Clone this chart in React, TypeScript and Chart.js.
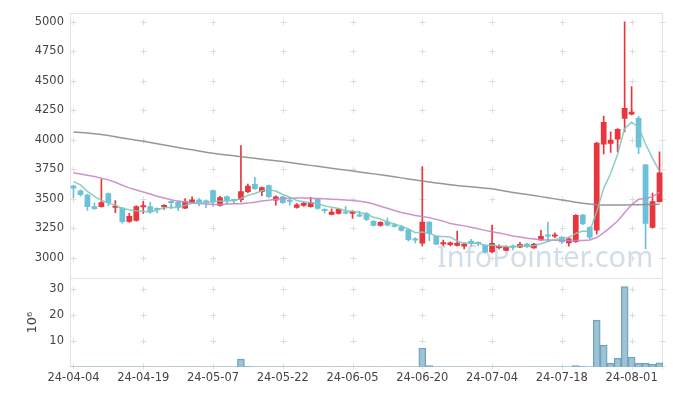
import { useEffect, useRef } from "react";
import { Chart, registerables } from "chart.js";

Chart.register(...registerables);

const dates = [
  "24-04-04","24-04-05","24-04-08","24-04-09","24-04-11","24-04-12","24-04-15","24-04-16","24-04-17","24-04-18",
  "24-04-19","24-04-22","24-04-23","24-04-24","24-04-25","24-04-26","24-04-29","24-04-30","24-05-02","24-05-03",
  "24-05-07","24-05-08","24-05-09","24-05-10","24-05-13","24-05-14","24-05-16","24-05-17","24-05-20","24-05-21",
  "24-05-22","24-05-23","24-05-24","24-05-27","24-05-28","24-05-29","24-05-30","24-05-31","24-06-03","24-06-04",
  "24-06-05","24-06-07","24-06-10","24-06-11","24-06-12","24-06-13","24-06-14","24-06-17","24-06-18","24-06-19",
  "24-06-20","24-06-21","24-06-24","24-06-25","24-06-26","24-06-27","24-06-28","24-07-01","24-07-02","24-07-03",
  "24-07-04","24-07-05","24-07-08","24-07-09","24-07-10","24-07-11","24-07-12","24-07-15","24-07-16","24-07-17",
  "24-07-18","24-07-19","24-07-22","24-07-23","24-07-24","24-07-25","24-07-26","24-07-29","24-07-30","24-07-31",
  "24-08-01","24-08-02","24-08-05","24-08-06","24-08-07",
];

const opens = [
  3611,3571,3535,3437,3431,3546,3423,3423,3305,3313,
  3429,3437,3420,3429,3479,3475,3418,3462,3493,3478,
  3572,3440,3521,3488,3490,3557,3625,3557,3615,3485,
  3519,3485,3423,3440,3431,3498,3413,3364,3373,3390,
  3373,3363,3378,3311,3271,3308,3282,3264,3240,3160,
  3120,3305,3187,3115,3107,3101,3095,3143,3122,3107,
  3046,3082,3060,3092,3087,3119,3080,3149,3195,3179,
  3177,3122,3133,3364,3260,3230,3961,3967,4002,4179,
  4215,4185,3790,3255,3473,
];

const highs = [
  3615,3575,3540,3465,3667,3550,3485,3428,3376,3440,
  3479,3470,3422,3450,3485,3480,3502,3517,3502,3490,
  3575,3520,3523,3495,3950,3625,3681,3600,3617,3525,
  3520,3505,3460,3475,3513,3500,3415,3414,3416,3433,
  3400,3395,3385,3315,3306,3336,3290,3275,3242,3170,
  3772,3306,3188,3150,3135,3226,3125,3155,3135,3108,
  3276,3110,3100,3110,3130,3125,3121,3233,3303,3210,
  3180,3175,3365,3368,3262,3978,4202,4067,4095,5000,
  4451,4200,3792,3549,3898,
];

const lows = [
  3507,3521,3401,3410,3428,3440,3381,3294,3300,3310,
  3376,3375,3380,3410,3415,3400,3415,3460,3440,3425,
  3437,3438,3457,3457,3474,3550,3580,3527,3510,3445,
  3460,3445,3420,3435,3428,3412,3380,3362,3370,3372,
  3334,3348,3315,3268,3268,3270,3258,3225,3140,3125,
  3099,3145,3110,3102,3100,3098,3075,3100,3100,3040,
  3040,3075,3058,3066,3085,3088,3078,3147,3143,3170,
  3120,3098,3130,3280,3160,3200,3880,3892,3899,4067,
  4210,3883,3075,3250,3470,
];

const closes = [
  3586,3532,3431,3414,3471,3465,3437,3303,3353,3437,
  3443,3387,3405,3447,3465,3425,3479,3493,3465,3468,
  3471,3512,3482,3480,3563,3610,3583,3597,3515,3520,
  3465,3475,3451,3464,3471,3415,3397,3389,3413,3375,
  3395,3350,3322,3271,3303,3273,3263,3229,3151,3145,
  3304,3204,3113,3130,3129,3127,3119,3118,3116,3046,
  3124,3094,3094,3086,3117,3090,3119,3185,3180,3197,
  3131,3162,3362,3283,3171,3975,4151,4001,4091,4269,
  4238,3935,3289,3479,3723,
];

const ma5 = [
  3645,3618,3563,3521,3487,3463,3444,3418,3406,3399,
  3395,3385,3405,3424,3429,3426,3444,3462,3465,3466,
  3475,3482,3480,3483,3502,3529,3544,3567,3574,3565,
  3536,3514,3485,3475,3465,3455,3440,3427,3417,3398,
  3394,3384,3371,3343,3328,3304,3286,3268,3244,3212,
  3218,3207,3183,3179,3176,3141,3124,3125,3122,3105,
  3105,3100,3095,3089,3103,3096,3101,3119,3138,3154,
  3162,3171,3206,3227,3222,3391,3588,3716,3878,4097,
  4150,4107,3964,3842,3733,
];

const ma20 = [
  3720,3710,3700,3688,3675,3660,3640,3615,3592,3575,
  3558,3540,3522,3507,3492,3480,3472,3465,3460,3455,
  3451,3452,3455,3457,3458,3463,3471,3480,3488,3496,
  3502,3505,3507,3506,3504,3502,3499,3496,3493,3489,
  3485,3478,3471,3455,3437,3420,3401,3384,3370,3358,
  3350,3340,3325,3310,3290,3280,3270,3258,3245,3232,
  3220,3210,3198,3185,3175,3165,3158,3152,3150,3148,
  3146,3145,3145,3146,3150,3171,3213,3260,3311,3381,
  3451,3495,3502,3518,3555,
];

const ma120 = [
  4067,4062,4057,4051,4045,4036,4026,4016,4006,3997,
  3988,3977,3966,3955,3945,3935,3925,3915,3905,3895,
  3885,3878,3871,3864,3857,3850,3843,3836,3829,3822,
  3815,3807,3799,3791,3783,3775,3767,3759,3751,3743,
  3735,3727,3719,3711,3703,3695,3686,3677,3668,3659,
  3650,3642,3634,3627,3619,3612,3607,3601,3596,3590,
  3585,3575,3564,3554,3545,3536,3528,3518,3508,3499,
  3490,3481,3471,3462,3455,3450,3448,3447,3447,3448,
  3449,3450,3451,3452,3453,
];

// volume in millions of shares
const volumes = [
  0.05,0.04,0.05,0.04,0.06,0.04,0.04,0.05,0.04,0.04,
  0.04,0.04,0.03,0.03,0.04,0.04,0.04,0.05,0.04,0.03,
  0.05,0.05,0.04,0.03,3.0,0.15,0.1,0.06,0.06,0.05,
  0.04,0.04,0.04,0.03,0.04,0.04,0.04,0.03,0.04,0.03,
  0.03,0.03,0.04,0.04,0.03,0.04,0.03,0.04,0.05,0.04,
  7.3,0.5,0.1,0.05,0.04,0.06,0.04,0.04,0.03,0.05,
  0.08,0.04,0.03,0.03,0.04,0.03,0.04,0.08,0.1,0.05,
  0.05,0.06,0.5,0.15,0.1,18.0,8.4,1.5,3.4,30.9,
  3.8,1.5,1.5,1.1,1.6,
];

const priceTicks = [3000, 3250, 3500, 3750, 4000, 4250, 4500, 4750, 5000];
const volumeTicks = [10, 20, 30];
const labelEvery = 10;
const watermark = "InfoPointer.com";
const volumeUnit = "10\u2076";

const UP = "#e8363c";
const DOWN = "#6cc1d8";
const FONT = "'DejaVu Sans', sans-serif";
const TICK_COLOR = "#444";

const framePlugin = {
  id: "frame",
  beforeDatasetsDraw(chart: any) {
    const { ctx, chartArea: ca, scales } = chart;
    const xs = scales.x;
    const y = scales.y;
    const y2 = scales.y2;
    ctx.save();
    // watermark
    ctx.font = "29px 'Noto Sans', sans-serif";
    ctx.fillStyle = "rgba(160,190,210,0.5)";
    ctx.textBaseline = "alphabetic";
    ctx.textAlign = "left";
    ctx.fillText(watermark, 437, 267);

    // grid crosses
    ctx.strokeStyle = "#dcdcdc";
    ctx.lineWidth = 1;
    const xPos: number[] = [];
    dates.forEach((_, i) => {
      if (i % labelEvery === 0) xPos.push(Math.round(xs.getPixelForValue(i)) + 0.5);
    });
    xPos.push(Math.round(ca.right) - 0.5);
    const yPos: number[] = [];
    priceTicks.forEach((v) => yPos.push(Math.round(y.getPixelForValue(v)) + 0.5));
    volumeTicks.forEach((v) => yPos.push(Math.round(y2.getPixelForValue(v)) + 0.5));
    yPos.push(Math.round(y2.getPixelForValue(0)) - 0.5);
    ctx.beginPath();
    for (const px of xPos) {
      for (const py of yPos) {
        ctx.moveTo(px - 3, py);
        ctx.lineTo(px + 3, py);
        ctx.moveTo(px, py - 3);
        ctx.lineTo(px, py + 3);
      }
    }
    ctx.stroke();

    // frame borders
    ctx.strokeStyle = "#e2e2e2";
    ctx.beginPath();
    ctx.rect(Math.round(ca.left) + 0.5, Math.round(ca.top) + 0.5, Math.round(ca.width) - 1, Math.round(ca.height) - 1);
    const sep = Math.round(y.bottom) + 0.5;
    ctx.moveTo(ca.left, sep);
    ctx.lineTo(ca.right, sep);
    ctx.stroke();
    ctx.restore();
  },
};

export default function App() {
  const ref = useRef<HTMLCanvasElement>(null);

  useEffect(() => {
    if (!ref.current) return;
    const colors = closes.map((c, i) => (c >= opens[i] ? UP : DOWN));
    const chart = new Chart(ref.current, {
      type: "bar",
      data: {
        labels: dates,
        datasets: [
          {
            type: "line",
            label: "MA5",
            data: ma5,
            yAxisID: "y",
            borderColor: "rgba(128,200,188,0.9)",
            borderWidth: 1.5,
            pointRadius: 0,
            fill: false,
            order: 0,
          } as any,
          {
            type: "line",
            label: "MA20",
            data: ma20,
            yAxisID: "y",
            borderColor: "rgba(200,135,196,0.9)",
            borderWidth: 1.5,
            pointRadius: 0,
            fill: false,
            order: 0,
          },
          {
            type: "line",
            label: "MA120",
            data: ma120,
            yAxisID: "y",
            borderColor: "rgba(140,140,140,0.9)",
            borderWidth: 1.5,
            pointRadius: 0,
            fill: false,
            order: 0,
          },
          {
            type: "bar",
            label: "body",
            data: opens.map((o, i) => [o, closes[i]]),
            yAxisID: "y",
            backgroundColor: colors,
            borderWidth: 0,
            barPercentage: 0.82,
            categoryPercentage: 1,
            grouped: false,
            minBarLength: 2,
            order: 1,
          },
          {
            type: "bar",
            label: "wick",
            data: lows.map((l, i) => [l, highs[i]]),
            yAxisID: "y",
            backgroundColor: colors,
            borderWidth: 0,
            barThickness: 1,
            grouped: false,
            order: 2,
          },
          {
            type: "bar",
            label: "volume",
            data: volumes,
            yAxisID: "y2",
            backgroundColor: "rgba(140,184,204,0.85)",
            borderColor: "#6f9fb8",
            borderWidth: 1,
            barPercentage: 1,
            categoryPercentage: 1,
            grouped: false,
            order: 3,
          },
        ] as any,
      },
      options: {
        responsive: false,
        animation: false,
        events: [],
        layout: { padding: { top: 10, right: 10, left: 0, bottom: 0 } },
        plugins: { legend: { display: false }, tooltip: { enabled: false } },
        scales: {
          x: {
            type: "category",
            offset: true,
            grid: { display: false, drawTicks: false },
            border: { display: false },
            ticks: {
              autoSkip: false,
              maxRotation: 0,
              minRotation: 0,
              padding: 4,
              color: TICK_COLOR,
              font: { family: FONT, size: 11.5 },
              callback: (_v: any, i: number) => (i % labelEvery === 0 ? dates[i] : ""),
            },
            afterFit: (s: any) => {
              s.height = 29;
            },
          },
          y2: {
            type: "linear",
            position: "left",
            stack: "panes",
            stackWeight: 1,
            min: 0,
            max: 34,
            grid: { display: false, drawTicks: false },
            border: { display: false },
            title: {
              display: true,
              text: volumeUnit,
              color: TICK_COLOR,
              font: { family: FONT, size: 13 },
              padding: { top: 25, bottom: 0 },
            },
            ticks: {
              padding: 6,
              color: TICK_COLOR,
              font: { family: FONT, size: 11.5 },
              callback: (v: any) => String(v),
            },
            afterBuildTicks: (s: any) => {
              s.ticks = volumeTicks.map((v) => ({ value: v }));
            },
            afterFit: (s: any) => {
              s.width = 70;
            },
          },
          y: {
            type: "linear",
            position: "left",
            stack: "panes",
            stackWeight: 3,
            min: 2824,
            max: 5076,
            grid: { display: false, drawTicks: false },
            border: { display: false },
            ticks: {
              padding: 6,
              color: TICK_COLOR,
              font: { family: FONT, size: 11.5 },
              callback: (v: any) => String(v),
            },
            afterBuildTicks: (s: any) => {
              s.ticks = priceTicks.map((v) => ({ value: v }));
            },
            afterFit: (s: any) => {
              s.width = 70;
            },
          },
        },
      } as any,
      plugins: [framePlugin],
    });
    return () => chart.destroy();
  }, []);

  return (
    <div style={{ position: "absolute", left: 0, top: 0, width: 673, height: 396, background: "#fff" }}>
      <canvas ref={ref} width={673} height={396} style={{ display: "block", width: 673, height: 396 }} />
    </div>
  );
}
